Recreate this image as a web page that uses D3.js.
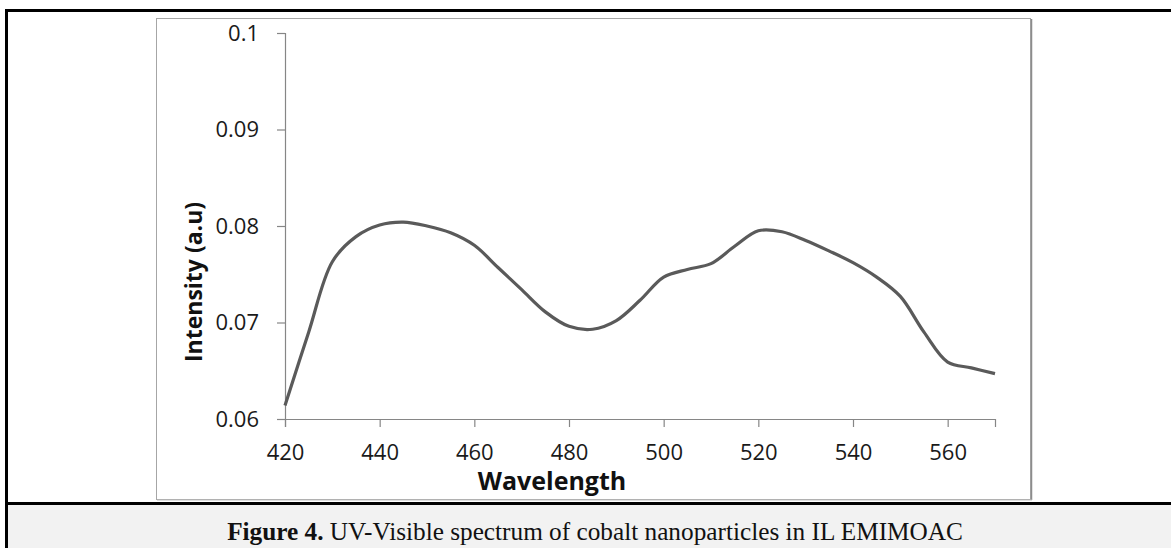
<!DOCTYPE html>
<html>
<head>
<meta charset="utf-8">
<script src="https://cdn.jsdelivr.net/npm/d3@7"></script>
<style>
  html, body { margin: 0; padding: 0; background: #fff; }
  svg { display: block; }
</style>
</head>
<body>
<svg id="chart" width="1171" height="548"></svg>
<script>
// ---- data ----
const wavelengths = [420,425,430,435,440,445,450,455,460,465,470,475,480,485,490,495,500,505,510,515,520,525,530,535,540,545,550,555,560,565,570];
const intensity   = [0.0614,0.0690,0.0763,0.0789,0.0801,0.0804,0.0800,0.0793,0.0780,0.0757,0.0734,0.0711,0.0696,0.0693,0.0702,0.0723,0.0747,0.0755,0.0761,0.0779,0.0795,0.0794,0.0785,0.0774,0.0762,0.0747,0.0727,0.0690,0.0659,0.0653,0.0647];
const xTicks = [420,440,460,480,500,520,540,560];
const yTicks = [0.06,0.07,0.08,0.09,0.1];
const yTickLabels = ["0.06","0.07","0.08","0.09","0.1"];
const xTitle = "Wavelength";
const yTitle = "Intensity (a.u)";
const captionBold = "Figure 4.";
const captionRest = " UV-Visible spectrum of cobalt nanoparticles in IL EMIMOAC";

const svg = d3.select("#chart");

// page background / caption area
svg.append("rect").attr("x",0).attr("y",0).attr("width",1171).attr("height",548).attr("fill","#fff");
svg.append("rect").attr("x",7).attr("y",505).attr("width",1164).attr("height",43).attr("fill","#f2f2f2");

// black frame lines
svg.append("line").attr("x1",5).attr("x2",1171).attr("y1",10.5).attr("y2",10.5).attr("stroke","#000").attr("stroke-width",3);
svg.append("line").attr("x1",6.5).attr("x2",6.5).attr("y1",9).attr("y2",548).attr("stroke","#000").attr("stroke-width",3);
svg.append("line").attr("x1",5).attr("x2",1171).attr("y1",503.5).attr("y2",503.5).attr("stroke","#000").attr("stroke-width",3);

// chart area frame
svg.append("rect").attr("x",156.5).attr("y",18.5).attr("width",874).attr("height",481)
  .attr("fill","#fff").attr("stroke","#a6a6a6").attr("stroke-width",1);
svg.append("line").attr("x1",1031.5).attr("x2",1031.5).attr("y1",19).attr("y2",500).attr("stroke","#8c8c8c").attr("stroke-width",1.5);
svg.append("line").attr("x1",157).attr("x2",1032).attr("y1",500).attr("y2",500).attr("stroke","#bdbdbd").attr("stroke-width",1);

// scales
const x = d3.scaleLinear().domain([420,570]).range([285,995]);
const y = d3.scaleLinear().domain([0.06,0.1]).range([419,33]);

const axisColor = "#868686";
const tickFont = "'Open Sans', sans-serif";

// y axis
const gy = svg.append("g").attr("transform","translate(285,0)")
  .call(d3.axisLeft(y).tickValues(yTicks).tickSize(8).tickPadding(18)
    .tickFormat((d,i)=>yTickLabels[i]));
// x axis
const gx = svg.append("g").attr("transform","translate(0,419)")
  .call(d3.axisBottom(x).tickValues(xTicks).tickSize(8).tickPadding(17)
    .tickFormat(d=>String(d)));

[gx,gy].forEach(g=>{
  g.select(".domain").attr("stroke",axisColor).attr("stroke-width",1.2);
  g.selectAll(".tick line").attr("stroke",axisColor).attr("stroke-width",1.2);
  g.selectAll(".tick text").attr("fill","#1a1a1a").style("font-family",tickFont).style("font-size","22px");
});

// line
const line = d3.line().x((d,i)=>x(wavelengths[i])).y(d=>y(d)).curve(d3.curveCatmullRom.alpha(0.5));
svg.append("path").datum(intensity).attr("d",line)
  .attr("fill","none").attr("stroke","#5a5a5a").attr("stroke-width",3.2).attr("stroke-linejoin","round");

// axis titles
svg.append("text").attr("x",552).attr("y",490).attr("text-anchor","middle")
  .style("font-family",tickFont).style("font-weight","bold").style("font-size","25px").attr("fill","#111")
  .text(xTitle);
svg.append("text").attr("transform","translate(202,282) rotate(-90)").attr("text-anchor","middle")
  .style("font-family",tickFont).style("font-weight","bold").style("font-size","23px").attr("fill","#111")
  .text(yTitle);

// caption
const cap = svg.append("text").attr("x",595).attr("y",540).attr("text-anchor","middle")
  .style("font-family","'Liberation Serif', serif").style("font-size","22px").attr("fill","#111");
cap.append("tspan").style("font-weight","bold").text(captionBold);
cap.append("tspan").text(captionRest);
const w = cap.node().getComputedTextLength();
const target = 736;
cap.style("font-size", (22*target/w).toFixed(2)+"px");
</script>
</body>
</html>
